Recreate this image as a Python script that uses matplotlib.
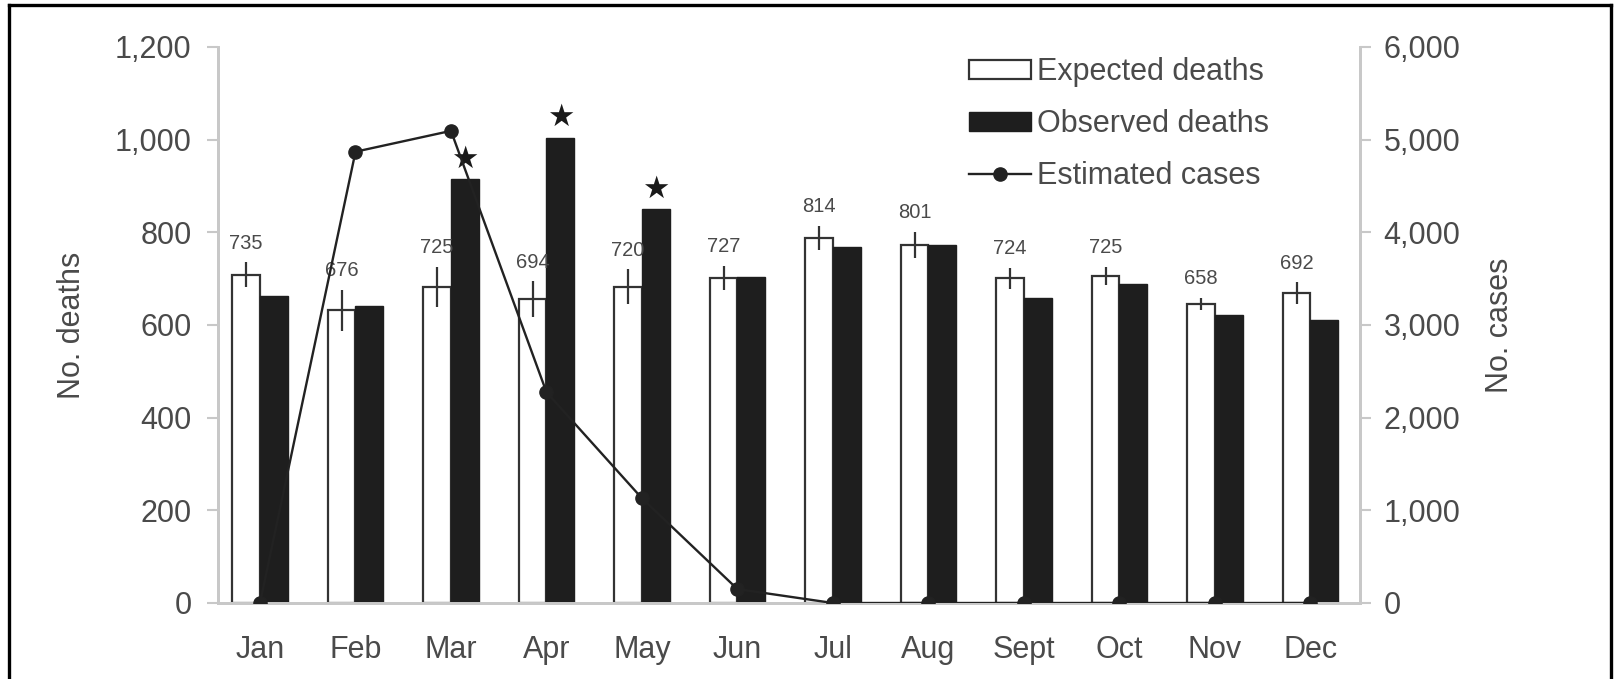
import matplotlib
matplotlib.use("Agg")
import matplotlib.pyplot as plt
from matplotlib.lines import Line2D
import numpy as np

plt.rcParams['font.family'] = ['Liberation Sans', 'DejaVu Sans']

months = ["Jan", "Feb", "Mar", "Apr", "May", "Jun", "Jul", "Aug", "Sept", "Oct", "Nov", "Dec"]
expected = [708, 632, 682, 656, 683, 701, 788, 773, 701, 706, 645, 669]
upper_labels = [735, 676, 725, 694, 720, 727, 814, 801, 724, 725, 658, 692]
observed = [663, 642, 915, 1004, 850, 703, 768, 773, 658, 689, 622, 611]
cases = [0, 4870, 5095, 2275, 1130, 150, 0, 0, 0, 0, 0, 0]
significant = ["Mar", "Apr", "May"]

TXT = "#4a4a4a"
AX = "#c8c8c8"
FS = 22

fig = plt.figure(figsize=(16.15, 6.79), dpi=100)
ax = fig.add_axes([218/1615, 76/679, (1360-218)/1615, (632-76)/679])
ax2 = ax.twinx()

x = np.arange(len(months))
w = 0.29
err = [u - e for u, e in zip(upper_labels, expected)]

ax.bar(x - w/2, expected, w, color="white", edgecolor="#333333", linewidth=1.6,
       label="Expected deaths", zorder=2)
ax.errorbar(x - w/2, expected, yerr=err, fmt="none", ecolor="#333333",
            elinewidth=1.6, capsize=0, zorder=3)
ax.bar(x + w/2, observed, w, color="#1e1e1e", edgecolor="#1e1e1e", linewidth=1.0,
       label="Observed deaths", zorder=2)

for xi, u in zip(x, upper_labels):
    ax.annotate(str(u), (xi - w/2, u), xytext=(0, 7), textcoords="offset points",
                ha="center", va="bottom", fontsize=14.5, color=TXT)

for m in significant:
    i = months.index(m)
    ax.annotate("★", (x[i] + w/2, observed[i]), xytext=(0, 4), textcoords="offset points",
                ha="center", va="bottom", fontsize=22, color="#1a1a1a",
                family="DejaVu Sans", zorder=4)

ln, = ax2.plot(x, cases, color="#222222", linewidth=1.7, marker="o", markersize=9.5,
               label="Estimated cases", zorder=5)

ax.set_xlim(-0.44, 11.52)
ax.set_ylim(0, 1200)
ax2.set_ylim(0, 6000)
ax.set_yticks(range(0, 1201, 200))
ax.set_yticklabels([f"{v:,}" for v in range(0, 1201, 200)])
ax2.set_yticks(range(0, 6001, 1000))
ax2.set_yticklabels([f"{v:,}" for v in range(0, 6001, 1000)])
ax.set_xticks(x)
ax.set_xticklabels(months)

for a in (ax, ax2):
    a.spines["top"].set_visible(False)
    for s in ("left", "right", "bottom"):
        a.spines[s].set_color(AX)
        a.spines[s].set_linewidth(2)
ax.set_facecolor("none")
ax2.set_facecolor("none")

ax.tick_params(axis="y", length=8, width=1.5, color=AX, pad=11, labelsize=FS, labelcolor=TXT)
ax2.tick_params(axis="y", length=8, width=1.5, color=AX, pad=9, labelsize=FS, labelcolor=TXT)
ax.tick_params(axis="x", length=0, pad=23, labelsize=FS, labelcolor=TXT)

ax.set_ylabel("No. deaths", fontsize=FS, color=TXT, labelpad=20)
ax2.set_ylabel("No. cases", fontsize=FS, color=TXT, labelpad=18)

h1, l1 = ax.get_legend_handles_labels()
leg = fig.legend(h1 + [ln], l1 + ["Estimated cases"], loc="upper left",
                 bbox_to_anchor=(948/1615, 1 - 36/679), frameon=False,
                 fontsize=FS, handlelength=2.0, handleheight=0.55, handletextpad=0.2,
                 labelspacing=0.72, borderpad=0.2)
for t in leg.get_texts():
    t.set_color(TXT)

# outer frame (left, top, right)
fx0, fx1, fy1 = 9/1615, 1611/1615, 1 - 5/679
for xs, ys in (([fx0, fx0], [-0.05, fy1]), ([fx0, fx1], [fy1, fy1]), ([fx1, fx1], [-0.05, fy1])):
    fig.add_artist(Line2D(xs, ys, transform=fig.transFigure, color="black", linewidth=2.4))

fig.savefig("out.png", dpi=100, facecolor="white")
